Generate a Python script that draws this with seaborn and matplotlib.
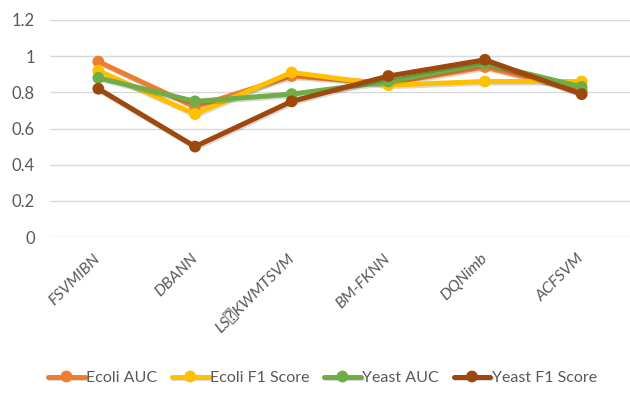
import matplotlib
matplotlib.use("Agg")
import matplotlib.pyplot as plt
import matplotlib.patheffects as pe
import seaborn as sns
import pandas as pd

categories = ["FSVMIBN", "DBANN", "LS\u2370KWMTSVM", "BM-FKNN", "DQNimb", "ACFSVM"]
ecoli_auc = [0.97, 0.72, 0.89, 0.85, 0.94, 0.81]
ecoli_f1 = [0.92, 0.68, 0.91, 0.84, 0.86, 0.86]
yeast_auc = [0.88, 0.75, 0.79, 0.86, 0.96, 0.83]
yeast_f1 = [0.82, 0.50, 0.75, 0.89, 0.98, 0.79]
series_names = ["Ecoli AUC", "Ecoli F1 Score", "Yeast AUC", "Yeast F1 Score"]
colors = ["#ED7D31", "#FFC000", "#70AD47", "#9E480E"]

rows = []
for name, vals in zip(series_names, [ecoli_auc, ecoli_f1, yeast_auc, yeast_f1]):
    for i, (c, v) in enumerate(zip(categories, vals)):
        rows.append({"idx": i, "cat": c, "value": v, "series": name})
df = pd.DataFrame(rows)

FAM = ["Lato", "DejaVu Sans", "DejaVu Sans Mono"]
sns.set_theme(style="white")
plt.rcParams["font.family"] = FAM

fig = plt.figure(figsize=(6.3, 3.95), dpi=100)
ax = fig.add_axes([50 / 630, 1 - 237 / 395, 580 / 630, 217 / 395])

sns.lineplot(data=df, x="idx", y="value", hue="series", hue_order=series_names,
             palette=colors, marker="o", markersize=8.5, markeredgewidth=0,
             linewidth=3.6, ax=ax, legend=True)
for ln in ax.lines:
    ln.set_path_effects([pe.SimpleLineShadow(offset=(0.8, -1.2), alpha=0.15, shadow_color="black"),
                         pe.Normal()])

ax.set_ylim(0, 1.2)
ax.set_yticks([0, 0.2, 0.4, 0.6, 0.8, 1.0, 1.2])
ax.set_yticklabels(["0", "0.2", "0.4", "0.6", "0.8", "1", "1.2"])
ax.set_xlim(-0.5, 5.5)
ax.set_xticks(range(len(categories)))
ax.set_xticklabels(categories, rotation=45, ha="right", va="center",
                   rotation_mode="anchor", family=FAM, style="italic", fontsize=11.5)
ax.yaxis.grid(True, color="#D9D9D9", linewidth=1)
ax.xaxis.grid(False)
for s in ax.spines.values():
    s.set_visible(False)
ax.tick_params(axis="y", length=0, colors="#595959", labelsize=12, pad=11)
ax.tick_params(axis="x", length=0, colors="#595959", pad=14)
ax.set_xlabel("")
ax.set_ylabel("")

handles, labels = ax.get_legend_handles_labels()
ax.legend_.remove()
fig.legend(handles, labels, loc="center", bbox_to_anchor=(0.512, 0.043), ncol=4,
           frameon=False, fontsize=11.5, handlelength=2.3, columnspacing=0.9,
           handletextpad=0.1, labelcolor="#595959")

fig.savefig("out.png", dpi=100)
